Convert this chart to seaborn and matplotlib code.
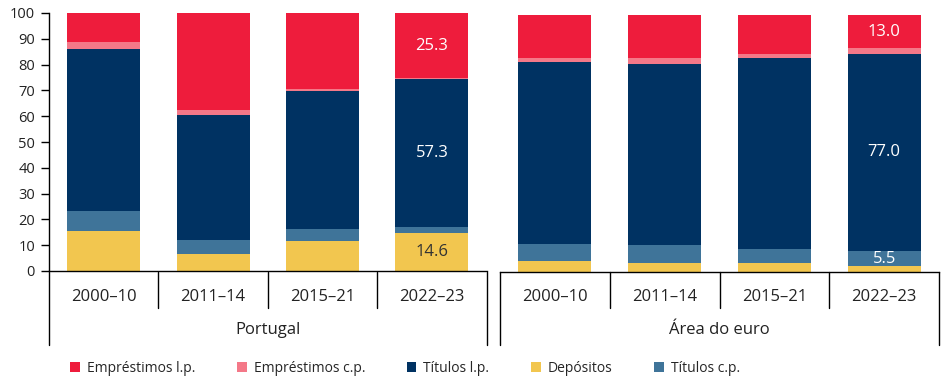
import matplotlib.pyplot as plt
import matplotlib.transforms as mtrans
from matplotlib import font_manager
from matplotlib.patches import Patch
import pandas as pd
import seaborn as sns

periodos = ['2000–10', '2011–14', '2015–21', '2022–23']
grupos = ['Portugal', 'Área do euro']
series = ['Depósitos', 'Títulos c.p.', 'Títulos l.p.', 'Empréstimos c.p.', 'Empréstimos l.p.']

# Portugal
pt_depositos = [15.5, 6.5, 11.7, 14.6]
pt_titulos_cp = [7.8, 5.4, 4.5, 2.4]
pt_titulos_lp = [62.8, 48.6, 53.7, 57.3]
pt_emprest_cp = [2.5, 1.9, 0.7, 0.4]
pt_emprest_lp = [11.4, 37.6, 29.4, 25.3]

# Area do euro
ea_depositos = [4.2, 3.4, 3.4, 2.5]
ea_titulos_cp = [6.6, 7.0, 5.4, 5.5]
ea_titulos_lp = [70.9, 70.5, 74.5, 77.0]
ea_emprest_cp = [1.5, 2.3, 1.6, 2.0]
ea_emprest_lp = [16.8, 16.8, 15.1, 13.0]

cores = {'Depósitos': '#F2C64F', 'Títulos c.p.': '#3F7499', 'Títulos l.p.': '#003262',
         'Empréstimos c.p.': '#F47888', 'Empréstimos l.p.': '#EE1C3C'}

sns.set_theme(style='white')
nomes = {f.name for f in font_manager.fontManager.ttflist}
plt.rcParams['font.family'] = ['Open Sans', 'DejaVu Sans']
leg_font = 'Liberation Sans Narrow' if 'Liberation Sans Narrow' in nomes else 'Open Sans'
leg_size = 12 if leg_font == 'Liberation Sans Narrow' else 10

fig = plt.figure(figsize=(9.46, 3.88), dpi=100)
W, H = 946, 388
def fx(p):
    return p / W
def fy(p):
    return 1 - p / H

ax1 = fig.add_axes([fx(49), fy(271), fx(486.7 - 49), (271 - 13) / H])
ax2 = fig.add_axes([fx(500), fy(272), fx(939 - 500), (272 - 15) / H])

dados = {
    'Portugal': [pt_depositos, pt_titulos_cp, pt_titulos_lp, pt_emprest_cp, pt_emprest_lp],
    'Área do euro': [ea_depositos, ea_titulos_cp, ea_titulos_lp, ea_emprest_cp, ea_emprest_lp],
}

rotulos = {
    'Portugal': [(3, 'Empréstimos l.p.', 'white'), (3, 'Títulos l.p.', 'white'), (3, 'Depósitos', '#333333')],
    'Área do euro': [(3, 'Empréstimos l.p.', 'white'), (3, 'Títulos l.p.', 'white'), (3, 'Títulos c.p.', 'white')],
}

for ax, grupo in zip([ax1, ax2], grupos):
    rows = []
    for s, vals in zip(series, dados[grupo]):
        for p, v in zip(periodos, vals):
            rows.append({'periodo': p, 'serie': s, 'valor': v})
    df = pd.DataFrame(rows)
    df['topo'] = df.groupby('periodo')['valor'].cumsum()
    df['base'] = df['topo'] - df['valor']
    # draw from top series down so lower segments cover the upper ones
    for s in series[::-1]:
        sub = df[df['serie'] == s]
        sns.barplot(data=sub, x='periodo', y='topo', order=periodos, color=cores[s],
                    saturation=1, width=0.667, errorbar=None, ax=ax, linewidth=0)
    for i, s, cor in rotulos[grupo]:
        r = df[(df['periodo'] == periodos[i]) & (df['serie'] == s)].iloc[0]
        ax.text(i, r['base'] + r['valor'] / 2, f"{r['valor']:.1f}", ha='center', va='center',
                color=cor, fontsize=12)
    ax.set_xlim(-0.5, 3.5)
    ax.set_ylim(0, 100)
    ax.set_xlabel('')
    ax.set_ylabel('')
    ax.set_xticks([])
    for sp in ['top', 'right']:
        ax.spines[sp].set_visible(False)
    ax.spines['bottom'].set_color('black')
    ax.spines['bottom'].set_linewidth(1)

    tr = mtrans.blended_transform_factory(ax.transData, fig.transFigure)
    for i, p in enumerate(periodos):
        ax.text(i, fy(297), p, transform=tr, ha='center', va='center', fontsize=12,
                color='#222222', clip_on=False)
    for k in range(1, 4):
        ax.plot([k - 0.5, k - 0.5], [fy(272), fy(308)], transform=tr, color='black',
                lw=1, clip_on=False)
    for k in [-0.5, 3.5]:
        ax.plot([k, k], [fy(272), fy(345)], transform=tr, color='black', lw=1, clip_on=False)
    ax.text(1.5, fy(330), grupo, transform=tr, ha='center', va='center', fontsize=12,
            color='#222222', clip_on=False)

ax1.set_yticks(range(0, 101, 10))
ax1.tick_params(axis='y', length=6, width=1, pad=4, labelsize=10.5, colors='black',
                left=True, labelcolor='#222222')
ax1.spines['left'].set_color('black')
ax1.spines['left'].set_linewidth(1)
ax2.set_yticks([])
ax2.spines['left'].set_visible(False)

ordem_leg = ['Empréstimos l.p.', 'Empréstimos c.p.', 'Títulos l.p.', 'Depósitos', 'Títulos c.p.']
handles = [Patch(facecolor=cores[s], edgecolor='none') for s in ordem_leg]
fig.legend(handles, ordem_leg, ncol=5, loc='center', bbox_to_anchor=(fx(405), fy(368)),
           frameon=False, handlelength=0.7, handleheight=0.7, handletextpad=0.5,
           columnspacing=3.0, prop={'family': leg_font, 'size': leg_size})

fig.savefig('out.png', dpi=100)
